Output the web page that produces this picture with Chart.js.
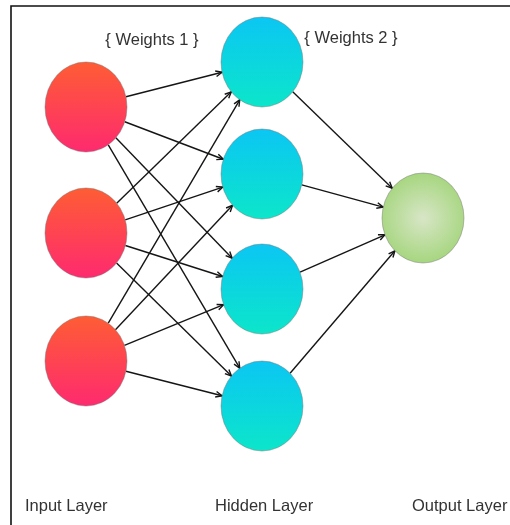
<!DOCTYPE html>
<html>
<head>
<meta charset="utf-8">
<script src="https://cdn.jsdelivr.net/npm/chart.js@4"></script>
<style>
  html, body { margin: 0; padding: 0; background: #fff; }
  canvas { display: block; }
</style>
</head>
<body>
<canvas id="net" width="510" height="525"></canvas>
<script>
// node centres per layer
const layerX = [86, 262, 423];
const inputY = [107, 233, 361];
const hiddenY = [62, 174, 289, 406];
const outputY = [218];

const layerNames = ["Input Layer", "Hidden Layer", "Output Layer"];
const layerNameX = [25, 215, 412];
const weightLabels = ["{ Weights 1 }", "{ Weights 2 }"];
const weightLabelX = [152, 351];
const weightLabelY = [40, 38];

const RX = 41, RY = 45;

const layers = [inputY, hiddenY, outputY].map((ys, li) => ys.map(y => ({x: layerX[li], y: y, layer: li})));
const nodes = layers.flat();

// clip a centre-to-centre segment to the ellipse outlines
function clip(a, b) {
  const dx = b.x - a.x, dy = b.y - a.y;
  const t = 1 / Math.sqrt((dx / RX) ** 2 + (dy / RY) ** 2);
  return [{x: a.x + dx * t, y: a.y + dy * t}, {x: b.x - dx * t, y: b.y - dy * t}];
}

const edgeSets = [];
for (let l = 0; l < layers.length - 1; l++) {
  layers[l].forEach(a => layers[l + 1].forEach(b => {
    edgeSets.push({
      type: "scatter",
      data: clip(a, b),
      showLine: true,
      borderColor: "#151515",
      borderWidth: 1.4,
      pointRadius: 0,
      isEdge: true
    });
  }));
}

const fills = {
  0: (ctx, x, y) => { const g = ctx.createLinearGradient(0, y - RY, 0, y + RY); g.addColorStop(0, "#fe5d34"); g.addColorStop(1, "#fe2a6f"); return g; },
  1: (ctx, x, y) => { const g = ctx.createLinearGradient(0, y - RY, 0, y + RY); g.addColorStop(0, "#0bc6f3"); g.addColorStop(1, "#0ce6ca"); return g; },
  2: (ctx, x, y) => { const g = ctx.createRadialGradient(x, y, 2, x, y, RY); g.addColorStop(0, "#d6e5c4"); g.addColorStop(1, "#a6d67f"); return g; }
};

const netPlugin = {
  id: "net",
  beforeDraw(chart) {
    const ctx = chart.ctx;
    ctx.save();
    ctx.strokeStyle = "#111";
    ctx.lineWidth = 1.6;
    ctx.beginPath();
    ctx.moveTo(11, 525);
    ctx.lineTo(11, 6);
    ctx.lineTo(510, 6);
    ctx.stroke();
    ctx.restore();
  },
  afterDatasetsDraw(chart) {
    const ctx = chart.ctx;
    const sx = chart.scales.x, sy = chart.scales.y;
    ctx.save();
    // arrow heads
    chart.data.datasets.forEach((ds, i) => {
      if (!ds.isEdge) return;
      const pts = chart.getDatasetMeta(i).data;
      const p0 = pts[0], p1 = pts[1];
      const ang = Math.atan2(p1.y - p0.y, p1.x - p0.x);
      ctx.strokeStyle = "#151515";
      ctx.lineWidth = 1.4;
      ctx.beginPath();
      ctx.moveTo(p1.x - 7 * Math.cos(ang - 0.42), p1.y - 7 * Math.sin(ang - 0.42));
      ctx.lineTo(p1.x, p1.y);
      ctx.lineTo(p1.x - 7 * Math.cos(ang + 0.42), p1.y - 7 * Math.sin(ang + 0.42));
      ctx.stroke();
    });
    // nodes
    const meta = chart.getDatasetMeta(chart.data.datasets.length - 1);
    meta.data.forEach((pt, i) => {
      const n = nodes[i];
      ctx.beginPath();
      ctx.ellipse(pt.x, pt.y, RX, RY, 0, 0, Math.PI * 2);
      ctx.fillStyle = fills[n.layer](ctx, pt.x, pt.y);
      ctx.fill();
      ctx.strokeStyle = "rgba(110,110,110,0.45)";
      ctx.lineWidth = 1;
      ctx.stroke();
    });
    // texts
    ctx.fillStyle = "#333";
    ctx.font = "16.5px 'Liberation Sans', Arial, sans-serif";
    ctx.textBaseline = "middle";
    ctx.textAlign = "left";
    layerNames.forEach((t, i) => ctx.fillText(t, sx.getPixelForValue(layerNameX[i]), sy.getPixelForValue(506)));
    ctx.textAlign = "center";
    weightLabels.forEach((t, i) => ctx.fillText(t, sx.getPixelForValue(weightLabelX[i]), sy.getPixelForValue(weightLabelY[i])));
    ctx.restore();
  }
};

new Chart(document.getElementById("net"), {
  type: "scatter",
  data: {
    datasets: edgeSets.concat([{
      data: nodes.map(n => ({x: n.x, y: n.y})),
      pointRadius: 0,
      showLine: false
    }])
  },
  options: {
    responsive: false,
    animation: false,
    layout: { padding: 0 },
    plugins: { legend: { display: false }, tooltip: { enabled: false } },
    scales: {
      x: { type: "linear", min: 0, max: 510, display: false },
      y: { type: "linear", min: 0, max: 525, reverse: true, display: false }
    }
  },
  plugins: [netPlugin]
});
</script>
</body>
</html>
